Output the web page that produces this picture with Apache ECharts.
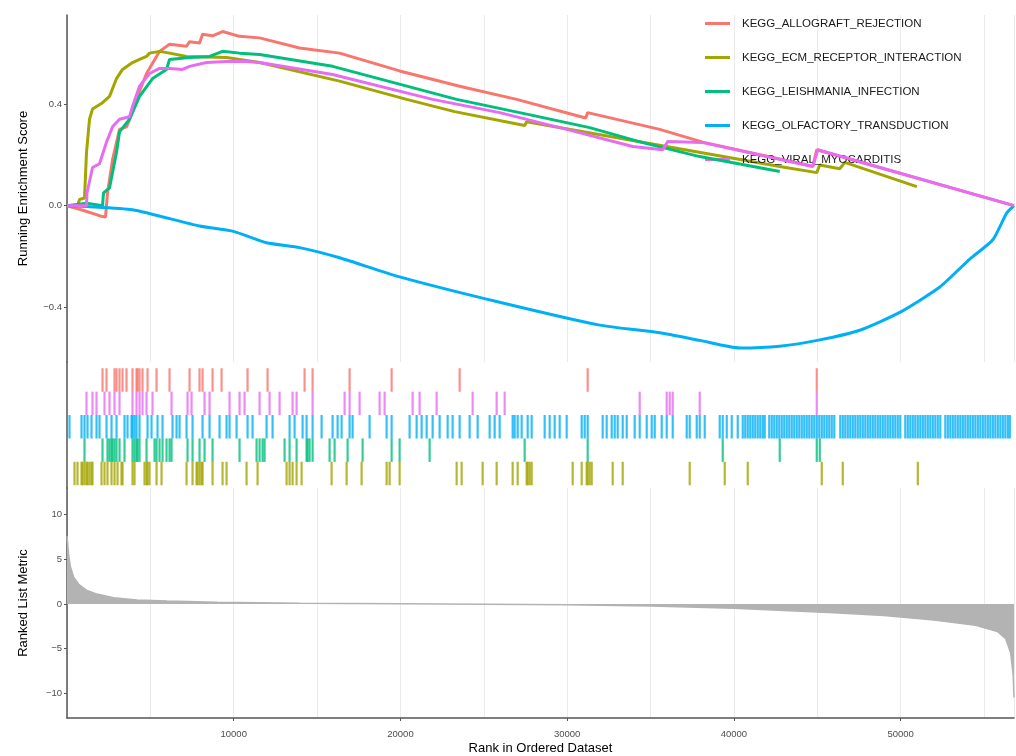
<!DOCTYPE html>
<html><head><meta charset="utf-8">
<script src="https://cdn.jsdelivr.net/npm/echarts@6/dist/echarts.min.js"></script>
<style>html,body{margin:0;padding:0;background:#fff}#c{width:1016px;height:756px}</style>
</head><body><div id="c"></div>
<script>
// ---------- data ----------
const geneSets = ['KEGG_ALLOGRAFT_REJECTION','KEGG_ECM_RECEPTOR_INTERACTION','KEGG_LEISHMANIA_INFECTION','KEGG_OLFACTORY_TRANSDUCTION','KEGG_VIRAL_MYOCARDITIS'];
const rankTicks = [10000, 20000, 30000, 40000, 50000];
const esTicks = [-0.4, 0, 0.4];
const metricTicks = [-10, -5, 0, 5, 10];

const allograftRank = [0,1050,2130,2310,2430,2730,3150,3570,3930,4350,4770,5370,5550,6150,7170,7350,7950,8130,8730,9330,10350,11550,13950,16350,19950,23550,26970,31110,31230,35550,38130,44730,44970,56800];
const allograftES = [0,-0.02,-0.043,-0.045,0.05,0.18,0.30,0.31,0.37,0.45,0.52,0.587,0.607,0.635,0.627,0.645,0.64,0.674,0.668,0.685,0.666,0.66,0.62,0.60,0.53,0.47,0.418,0.345,0.366,0.30,0.25,0.155,0.22,0];

const ecmRank = [0,270,630,750,1050,1170,1350,1530,2130,2550,2970,3330,3930,4350,4770,4950,5550,6150,7170,9570,11550,16350,20370,23250,27450,27570,42750,44970,45150,46350,46650,50970];
const ecmES = [0,-0.005,0.0,0.024,0.03,0.21,0.34,0.38,0.405,0.43,0.50,0.536,0.563,0.575,0.587,0.60,0.607,0.60,0.587,0.583,0.563,0.49,0.418,0.37,0.315,0.33,0.154,0.13,0.16,0.145,0.17,0.075];

const leishRank = [0,1170,2130,2190,2550,2970,3150,3750,4350,5130,5970,6150,7350,8550,9330,10350,11550,15930,23370,27570,31350,34530,37950,42750];
const leishES = [0,0.01,0.0,0.05,0.07,0.21,0.29,0.34,0.43,0.50,0.536,0.575,0.583,0.587,0.607,0.60,0.595,0.548,0.418,0.36,0.307,0.248,0.193,0.134];

const olfRank = [0,1170,3930,7950,9930,11970,13950,16350,19950,25950,31950,35550,37950,40350,42750,45150,47550,49950,52350,54150,55530,56370,56800];
const olfES = [0,-0.003,-0.016,-0.08,-0.10,-0.146,-0.165,-0.205,-0.28,-0.38,-0.47,-0.50,-0.53,-0.56,-0.553,-0.528,-0.49,-0.42,-0.32,-0.21,-0.134,-0.028,0];

const viralRank = [0,1170,1200,1530,1950,2370,2730,3150,3750,3930,4350,4950,5550,6150,6930,7350,8370,9570,10770,11550,15930,21930,25950,29970,33930,35730,36030,38130,44730,45030,56800];
const viralES = [0,0.0,0.05,0.15,0.165,0.25,0.31,0.34,0.35,0.39,0.47,0.52,0.54,0.54,0.536,0.548,0.563,0.567,0.567,0.563,0.516,0.418,0.366,0.30,0.233,0.22,0.252,0.248,0.154,0.22,0];

const allograftHits = [2130,2370,2850,2970,3150,3330,3570,3930,4170,4230,4350,4530,4830,5370,6150,7350,7950,8130,8730,9270,10830,12030,14250,14730,16950,19470,23550,31230,44970];
const viralHits = [1170,1530,1770,2250,2550,2850,3150,3930,4170,4350,4530,4770,5130,6270,7230,7470,8250,8550,9750,10350,10650,11550,12150,12750,13530,13770,14730,16650,16950,17550,18750,19050,20730,21150,22170,24330,25770,26250,34350,35970,36150,36330,37950,44970];
const leishHits = [1050,2130,2430,2550,2670,2730,2850,2970,3150,3450,3930,4050,4170,4230,4350,4770,5250,5370,5550,5730,5970,6150,6270,7230,7530,7950,8250,8730,10350,11370,11550,11730,11850,13050,13350,13770,14370,14430,14550,14730,15750,16050,16830,17730,19470,19950,21750,27450,31230,39330,42750,44970,45150];
const ecmHits = [450,630,870,930,1050,1170,1230,1350,1470,1530,2070,2250,2430,2670,2850,3030,3270,3330,3930,4050,4650,4770,4830,4950,5370,5670,7170,7530,7770,7830,7950,8070,8130,8730,9330,9570,10770,11430,13170,13350,13530,13770,14070,15870,16770,17670,19170,19350,19950,23370,23670,24930,25770,26730,27030,27570,27630,27750,27870,30330,30870,31170,31230,31350,31470,32730,33330,37350,39450,40830,45270,46530,51030];
const olfHits = [150,870,1050,1230,1470,1770,1950,2370,2670,2970,3450,3630,3870,3930,4050,4170,4350,4830,5070,5430,5730,6330,6570,6750,7170,7530,8130,8550,9150,9570,9750,10170,10830,11130,11970,12330,13350,13650,14130,14370,14730,15270,15930,16230,16470,16950,17130,18150,19170,19470,20550,20970,21270,21570,21930,22350,22830,23130,23550,24150,24630,25350,25650,25950,26730,26850,27030,27270,27630,27870,28650,28950,29250,29550,29970,30870,31050,31230,32130,32370,32670,32850,33030,33330,33570,34050,34350,34770,35070,35250,35670,35970,36330,37170,37350,37770,37950,38250,39150,39330,39570,39870,40230,
 40530,40680,40830,40980,41130,41280,41430,41580,41730,41850,42120,42270,42420,42570,42720,42870,43020,43170,43320,43470,43620,43770,43920,44070,44220,44370,44520,44670,44820,44970,45120,45270,45420,45570,45720,45870,46020,46380,46530,46680,46830,46980,47130,47280,47430,47580,47730,47880,48030,48180,48330,48480,48630,48780,48930,49080,49230,49380,49530,49680,49830,49980,50280,50430,50580,50730,50880,51030,51180,51330,51480,51630,51780,51930,52080,52230,52380,52680,52830,52980,53130,53280,53430,53580,53730,53880,54030,54180,54330,54480,54630,54780,54930,55080,55230,55380,55530,55680,55830,55980,56130,56280,56430,56550];

const metricRank = [0,100,200,400,700,1200,1800,2800,4200,6000,9000,14000,20000,25000,30000,35000,40000,43000,46000,49000,52000,54500,55800,56300,56600,56750,56800];
const metricValue = [7.6,5.5,4.2,3.0,2.2,1.5,1.1,0.7,0.45,0.32,0.18,0.08,0.02,-0.03,-0.1,-0.25,-0.5,-0.75,-1.0,-1.3,-1.8,-2.4,-3.1,-3.9,-5.5,-8,-10.5];

// ---------- chart ----------
const FONT = '"Liberation Sans", Arial, sans-serif';
const colors = ['#F8766D','#A3A500','#00BF7D','#00B0F6','#E76BF3'];
const X_MAX = 56800;
const zip = (a, b) => a.map((v, i) => [v, b[i]]);
const curves = [[allograftRank, allograftES],[ecmRank, ecmES],[leishRank, leishES],[olfRank, olfES],[viralRank, viralES]];
const hits = [allograftHits, ecmHits, leishHits, olfHits, viralHits];
const rugRow = [5, 1, 2, 3, 4];
const minus = v => (v < 0 ? '\u2212' : '') + Math.abs(v);

const axisLineStyle = {color: '#555', width: 1.5};
const gridLineX = {show: true, lineStyle: {color: '#ebebeb', width: 1}};

const series = [];
curves.forEach((c, i) => {
  series.push({
    name: geneSets[i], type: 'line', xAxisIndex: 0, yAxisIndex: 0,
    data: zip(c[0], c[1]), symbol: 'none', showSymbol: false,
    smooth: i === 3 ? 0.2 : false,
    lineStyle: {color: colors[i], width: 3}, itemStyle: {color: colors[i]},
    z: 2 + i, silent: true
  });
});
hits.forEach((h, i) => {
  series.push({
    name: geneSets[i], type: 'scatter', xAxisIndex: 1, yAxisIndex: 1,
    data: h.map(r => [r, rugRow[i]]), symbol: 'rect', symbolSize: [2.2, 23.5],
    itemStyle: {color: colors[i]}, silent: true
  });
});
series.push({
  type: 'line', xAxisIndex: 3, yAxisIndex: 2, data: zip(metricRank, metricValue),
  symbol: 'none', showSymbol: false, silent: true,
  lineStyle: {color: '#b3b3b3', width: 1.5}, areaStyle: {color: '#b3b3b3', opacity: 1}
});

const option = {
  animation: false,
  backgroundColor: '#fff',
  textStyle: {fontFamily: FONT},
  grid: [
    {left: 67, right: 2, top: 15, height: 347},
    {left: 67, right: 2, top: 362, height: 126},
    {left: 67, right: 2, top: 488, height: 232}
  ],
  legend: {
    data: geneSets, orient: 'vertical', left: 700, top: 12,
    icon: 'rect', itemWidth: 25, itemHeight: 3, itemGap: 21,
    textStyle: {fontSize: 11.5, color: '#1a1a1a', fontFamily: FONT, padding: [0, 0, 0, 7], lineHeight: 13},
    selectedMode: false
  },
  xAxis: [
    {type: 'value', gridIndex: 0, min: 0, max: X_MAX, interval: 5000,
     axisLine: {show: false}, axisTick: {show: false}, axisLabel: {show: false}, splitLine: gridLineX},
    {type: 'value', gridIndex: 1, min: 0, max: X_MAX, interval: 5000,
     axisLine: {show: false}, axisTick: {show: false}, axisLabel: {show: false}, splitLine: {show: false}},
    {type: 'value', gridIndex: 2, min: 0, max: X_MAX, interval: 5000,
     axisLine: {show: false}, axisTick: {show: false}, axisLabel: {show: false}, splitLine: gridLineX},
    {type: 'value', gridIndex: 2, min: 0, max: X_MAX, position: 'bottom',
     axisLine: {show: true, lineStyle: axisLineStyle},
     axisTick: {show: true, length: 3, customValues: rankTicks, lineStyle: {color: '#555', width: 1}},
     axisLabel: {show: true, customValues: rankTicks, fontSize: 9.5, color: '#4d4d4d', margin: 11, fontFamily: FONT,
       formatter: v => String(v)},
     splitLine: {show: false},
     name: 'Rank in Ordered Dataset', nameLocation: 'middle', nameGap: 24,
     nameTextStyle: {fontSize: 13, color: '#000', fontFamily: FONT}}
  ],
  yAxis: [
    {type: 'value', gridIndex: 0, min: -0.615, max: 0.75,
     axisLine: {show: true, lineStyle: axisLineStyle},
     axisTick: {show: true, length: 3, customValues: esTicks, lineStyle: {color: '#555', width: 1}},
     axisLabel: {customValues: esTicks, fontSize: 9.5, color: '#4d4d4d', margin: 5, fontFamily: FONT,
       formatter: v => (v < 0 ? '\u2212' : '') + Math.abs(v).toFixed(1)},
     splitLine: {show: false},
     name: 'Running Enrichment Score', nameLocation: 'middle', nameGap: 37,
     nameTextStyle: {fontSize: 13, color: '#000', fontFamily: FONT}},
    {type: 'value', gridIndex: 1, min: 0.38, max: 5.77,
     axisLine: {show: true, lineStyle: axisLineStyle},
     axisTick: {show: false}, axisLabel: {show: false}, splitLine: {show: false}},
    {type: 'value', gridIndex: 2, min: -12.8, max: 13,
     axisLine: {show: true, lineStyle: axisLineStyle},
     axisTick: {show: true, length: 3, customValues: metricTicks, lineStyle: {color: '#555', width: 1}},
     axisLabel: {customValues: metricTicks, fontSize: 9.5, color: '#4d4d4d', margin: 5, fontFamily: FONT, formatter: minus},
     splitLine: {show: false},
     name: 'Ranked List Metric', nameLocation: 'middle', nameGap: 37,
     nameTextStyle: {fontSize: 13, color: '#000', fontFamily: FONT}}
  ],
  series: series
};
const chart = echarts.init(document.getElementById('c'));
chart.setOption(option);
</script></body></html>
